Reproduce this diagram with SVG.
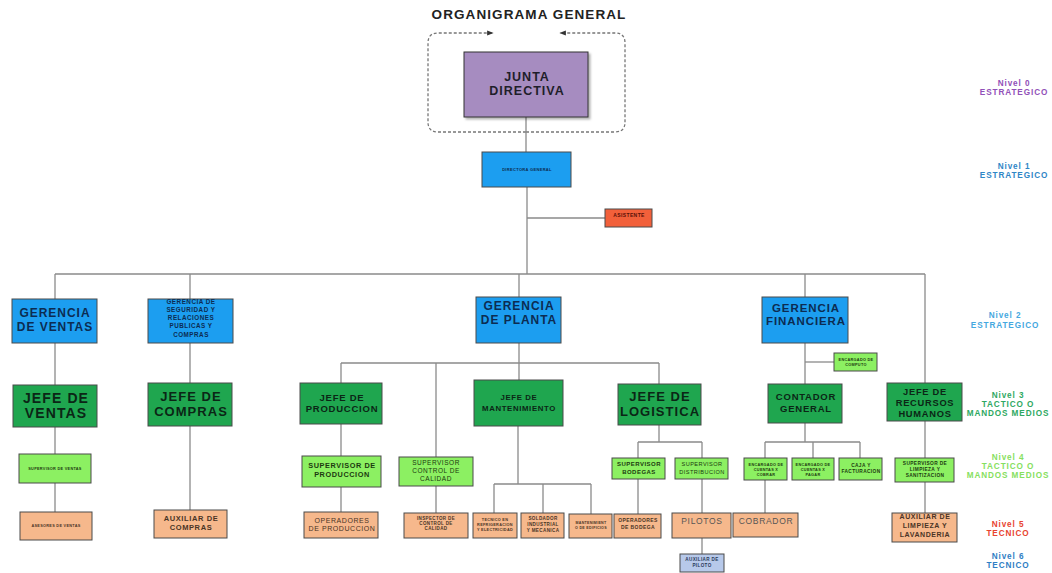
<svg xmlns="http://www.w3.org/2000/svg" width="1052" height="573" viewBox="0 0 1052 573">
<style>
text{font-family:"Liberation Sans",Arial,sans-serif;font-weight:bold;text-anchor:middle;letter-spacing:0.08em}
.c line,.c path{stroke:#8a8a8a;stroke-width:1.3;fill:none}
.box{stroke:#4a4a4a;stroke-width:1}
.purple{fill:#a68cc0}
.blue{fill:#1c9ef0}
.green{fill:#1fa64f}
.lg{fill:#8cf062}
.peach{fill:#f6b88c}
.lb{fill:#b7c9ea}
.red{fill:#f2603a}
.tb{fill:#0c2c52}
.tg{fill:#0b2616}
.tl{fill:#1c3a10}
.tp{fill:#4a3426}
.lvl{font-size:8.2px;letter-spacing:0.9px}
</style>
<defs>
<filter id="sh" x="-10%" y="-10%" width="130%" height="130%">
<feDropShadow dx="2" dy="2" stdDeviation="1.2" flood-color="#000" flood-opacity="0.3"/>
</filter>
<marker id="ar" viewBox="0 0 10 10" refX="9" refY="5" markerWidth="5" markerHeight="5" orient="auto">
<path d="M0,1 L10,5 L0,9 z" fill="#333"/>
</marker>
</defs>
<rect width="1052" height="573" fill="#fff"/>
<text x="529" y="19" font-size="13.5" fill="#222">ORGANIGRAMA GENERAL</text>

<g class="c" id="connectors">
<path d="M526,132 H438 Q428,132 428,122 V43 Q428,33 438,33 H493" stroke-dasharray="3,2" marker-end="url(#ar)" style="stroke:#777"/>
<path d="M526,132 H615 Q625,132 625,122 V43 Q625,33 615,33 H560" stroke-dasharray="3,2" marker-end="url(#ar)" style="stroke:#777"/>
<line x1="526" y1="117" x2="526" y2="152"/>
<line x1="527" y1="187" x2="527" y2="274"/>
<line x1="527" y1="218" x2="605" y2="218"/>
<line x1="55" y1="274" x2="925" y2="274"/>
<line x1="55" y1="274" x2="55" y2="299"/>
<line x1="190" y1="274" x2="190" y2="299"/>
<line x1="519" y1="274" x2="519" y2="297"/>
<line x1="805" y1="274" x2="805" y2="297"/>
<line x1="925" y1="274" x2="925" y2="383"/>
<line x1="55" y1="343" x2="55" y2="385"/>
<line x1="55" y1="427" x2="55" y2="454"/>
<line x1="55" y1="483" x2="55" y2="512"/>
<line x1="190" y1="343" x2="190" y2="383"/>
<line x1="190" y1="426" x2="190" y2="510"/>
<line x1="519" y1="343" x2="519" y2="380"/>
<line x1="341" y1="363" x2="659" y2="363"/>
<line x1="341" y1="363" x2="341" y2="383"/>
<line x1="436" y1="363" x2="436" y2="457"/>
<line x1="659" y1="363" x2="659" y2="384"/>
<line x1="341" y1="424" x2="341" y2="456"/>
<line x1="341" y1="487" x2="341" y2="512"/>
<line x1="436" y1="486" x2="436" y2="513"/>
<line x1="518" y1="426" x2="518" y2="484"/>
<line x1="494" y1="484" x2="591" y2="484"/>
<line x1="494" y1="484" x2="494" y2="513"/>
<line x1="543" y1="484" x2="543" y2="513"/>
<line x1="591" y1="484" x2="591" y2="514"/>
<line x1="659" y1="425" x2="659" y2="442"/>
<line x1="638" y1="442" x2="702" y2="442"/>
<line x1="638" y1="442" x2="638" y2="458"/>
<line x1="702" y1="442" x2="702" y2="458"/>
<line x1="638" y1="479" x2="638" y2="514"/>
<line x1="702" y1="479" x2="702" y2="513"/>
<line x1="702" y1="538" x2="702" y2="554"/>
<line x1="805" y1="343" x2="805" y2="384"/>
<line x1="805" y1="362" x2="834" y2="362"/>
<line x1="805" y1="423" x2="805" y2="442"/>
<line x1="765" y1="442" x2="860" y2="442"/>
<line x1="765" y1="442" x2="765" y2="458"/>
<line x1="813" y1="442" x2="813" y2="458"/>
<line x1="860" y1="442" x2="860" y2="458"/>
<line x1="765" y1="480" x2="765" y2="513"/>
<line x1="925" y1="421" x2="925" y2="458"/>
<line x1="925" y1="482" x2="925" y2="513"/>
</g>

<g id="junta"><rect class="box purple" x="464" y="52" width="124" height="65" filter="url(#sh)" style="stroke:#333"/>
<text x="527" y="81" font-size="12.5" fill="#1e1e2a">JUNTA</text><text x="527" y="95" font-size="12.5" fill="#1e1e2a">DIRECTIVA</text></g>

<g id="directora"><rect class="box blue" x="482" y="152" width="89" height="35"/>
<text x="527" y="171" font-size="4" class="tb">DIRECTORA GENERAL</text></g>

<g id="asistente"><rect class="box red" x="605" y="209" width="47" height="18"/>
<text x="629" y="217" font-size="5" fill="#5a1008">ASISTENTE</text></g>

<g id="ger-ventas"><rect class="box blue" x="12" y="299" width="85" height="44"/>
<text x="55" y="317" font-size="12" class="tb">GERENCIA</text><text x="55" y="331" font-size="12" class="tb">DE VENTAS</text></g>

<g id="ger-seguridad"><rect class="box blue" x="148" y="299" width="85" height="44"/>
<text x="191" y="304" font-size="6.3" class="tb">GERENCIA DE</text>
<text x="191" y="312" font-size="6.3" class="tb">SEGURIDAD Y</text>
<text x="191" y="320" font-size="6.3" class="tb">RELACIONES</text>
<text x="191" y="328" font-size="6.3" class="tb">PUBLICAS Y</text>
<text x="191" y="337" font-size="6.3" class="tb">COMPRAS</text></g>

<g id="ger-planta"><rect class="box blue" x="476" y="297" width="85" height="46"/>
<text x="519" y="310" font-size="12" class="tb">GERENCIA</text><text x="519" y="324" font-size="12" class="tb">DE PLANTA</text></g>

<g id="ger-financiera"><rect class="box blue" x="762" y="297" width="86" height="46"/>
<text x="806" y="312" font-size="11.5" class="tb">GERENCIA</text><text x="806" y="325" font-size="11.5" class="tb">FINANCIERA</text></g>

<g id="jefe-ventas"><rect class="box green" x="13" y="385" width="84" height="42"/>
<text x="56" y="403" font-size="14" class="tg">JEFE DE</text><text x="56" y="418" font-size="14" class="tg">VENTAS</text></g>

<g id="jefe-compras"><rect class="box green" x="148" y="383" width="84" height="43"/>
<text x="191" y="401" font-size="13" class="tg">JEFE DE</text><text x="191" y="416" font-size="13" class="tg">COMPRAS</text></g>

<g id="jefe-produccion"><rect class="box green" x="300" y="383" width="82" height="41"/>
<text x="342" y="401" font-size="9.5" class="tg">JEFE DE</text><text x="342" y="412" font-size="9.5" class="tg">PRODUCCION</text></g>

<g id="jefe-mantenimiento"><rect class="box green" x="474" y="380" width="89" height="46"/>
<text x="519" y="400" font-size="7.8" class="tg">JEFE DE</text><text x="519" y="411" font-size="7.8" class="tg">MANTENIMIENTO</text></g>

<g id="jefe-logistica"><rect class="box green" x="618" y="384" width="83" height="41"/>
<text x="660" y="401" font-size="13" class="tg">JEFE DE</text><text x="660" y="416" font-size="13" class="tg">LOGISTICA</text></g>

<g id="encargado-computo"><rect class="box lg" x="834" y="353" width="43" height="18"/>
<text x="856" y="361" font-size="3.8" class="tl">ENCARGADO DE</text><text x="856" y="366" font-size="3.8" class="tl">COMPUTO</text></g>

<g id="contador"><rect class="box green" x="768" y="384" width="74" height="39"/>
<text x="806" y="400" font-size="9.5" class="tg">CONTADOR</text><text x="806" y="412" font-size="9.5" class="tg">GENERAL</text></g>

<g id="jefe-rrhh"><rect class="box green" x="887" y="383" width="75" height="38"/>
<text x="925" y="395" font-size="9.3" class="tg">JEFE DE</text><text x="925" y="406" font-size="9.3" class="tg">RECURSOS</text><text x="925" y="417" font-size="9.3" class="tg">HUMANOS</text></g>

<g id="sup-ventas"><rect class="box lg" x="19" y="454" width="72" height="29"/>
<text x="55" y="470" font-size="3.8" class="tl">SUPERVISOR DE VENTAS</text></g>

<g id="sup-produccion"><rect class="box lg" x="302" y="456" width="79" height="31"/>
<text x="342" y="468" font-size="7.3" class="tl">SUPERVISOR DE</text><text x="342" y="477" font-size="7.3" class="tl">PRODUCCION</text></g>

<g id="sup-calidad"><rect class="box lg" x="399" y="457" width="74" height="29"/>
<text x="436" y="465" font-size="6.5" class="tl" style="font-weight:normal">SUPERVISOR</text><text x="436" y="473" font-size="6.5" class="tl" style="font-weight:normal">CONTROL DE</text><text x="436" y="481" font-size="6.5" class="tl" style="font-weight:normal">CALIDAD</text></g>

<g id="sup-bodegas"><rect class="box lg" x="612" y="458" width="53" height="21"/>
<text x="639" y="466" font-size="6" class="tl">SUPERVISOR</text><text x="639" y="474" font-size="6" class="tl">BODEGAS</text></g>

<g id="sup-distribucion"><rect class="box lg" x="675" y="458" width="53" height="21"/>
<text x="702" y="466" font-size="5.6" class="tl" style="font-weight:normal">SUPERVISOR</text><text x="702" y="474" font-size="5.6" class="tl" style="font-weight:normal">DISTRIBUCION</text></g>

<g id="enc-cobrar"><rect class="box lg" x="744" y="458" width="43" height="22"/>
<text x="766" y="466" font-size="3.8" class="tl">ENCARGADO DE</text><text x="766" y="471" font-size="3.8" class="tl">CUENTAS X</text><text x="766" y="476" font-size="3.8" class="tl">COBRAR</text></g>

<g id="enc-pagar"><rect class="box lg" x="792" y="458" width="42" height="22"/>
<text x="813" y="466" font-size="3.8" class="tl">ENCARGADO DE</text><text x="813" y="471" font-size="3.8" class="tl">CUENTAS X</text><text x="813" y="476" font-size="3.8" class="tl">PAGAR</text></g>

<g id="caja"><rect class="box lg" x="839" y="458" width="43" height="22"/>
<text x="861" y="467" font-size="4.8" class="tl">CAJA Y</text><text x="861" y="473" font-size="4.8" class="tl">FACTURACION</text></g>

<g id="sup-limpieza"><rect class="box lg" x="895" y="458" width="59" height="24"/>
<text x="925" y="465" font-size="4.8" class="tl">SUPERVISOR DE</text><text x="925" y="471" font-size="4.8" class="tl">LIMPIEZA Y</text><text x="925" y="477" font-size="4.8" class="tl">SANITIZACION</text></g>

<g id="asesores"><rect class="box peach" x="20" y="512" width="72" height="28"/>
<text x="56" y="527" font-size="3.8" class="tp">ASESORES DE VENTAS</text></g>

<g id="aux-compras"><rect class="box peach" x="154" y="510" width="73" height="28"/>
<text x="191" y="521" font-size="7.5" class="tp">AUXILIAR DE</text><text x="191" y="530" font-size="7.5" class="tp">COMPRAS</text></g>

<g id="operadores-prod"><rect class="box peach" x="304" y="512" width="74" height="26"/>
<text x="342" y="523" font-size="7" class="tp" style="font-weight:normal">OPERADORES</text><text x="342" y="531" font-size="7" class="tp" style="font-weight:normal">DE PRODUCCION</text></g>

<g id="inspector"><rect class="box peach" x="404" y="513" width="64" height="25"/>
<text x="436" y="520" font-size="4.5" class="tp">INSPECTOR DE</text><text x="436" y="525" font-size="4.5" class="tp">CONTROL DE</text><text x="436" y="530" font-size="4.5" class="tp">CALIDAD</text></g>

<g id="tecnico"><rect class="box peach" x="473" y="513" width="44" height="25"/>
<text x="495" y="521" font-size="3.8" class="tp">TECNICO EN</text><text x="495" y="526" font-size="3.8" class="tp">REFRIGERACION</text><text x="495" y="531" font-size="3.8" class="tp">Y ELECTRICIDAD</text></g>

<g id="soldador"><rect class="box peach" x="521" y="513" width="43" height="25"/>
<text x="543" y="520" font-size="4.6" class="tp">SOLDADOR</text><text x="543" y="526" font-size="4.6" class="tp">INDUSTRIAL</text><text x="543" y="532" font-size="4.6" class="tp">Y MECANICA</text></g>

<g id="mant-edificios"><rect class="box peach" x="569" y="514" width="43" height="24"/>
<text x="591" y="524" font-size="3.6" class="tp">MANTENIMIENT</text><text x="591" y="529" font-size="3.6" class="tp">O DE EDIFICIOS</text></g>

<g id="operadores-bodega"><rect class="box peach" x="614" y="514" width="47" height="24"/>
<text x="638" y="522" font-size="5" class="tp">OPERADORES</text><text x="638" y="529" font-size="5" class="tp">DE BODEGA</text></g>

<g id="pilotos"><rect class="box peach" x="672" y="513" width="59" height="25"/>
<text x="702" y="524" font-size="8.5" fill="#555" style="font-weight:normal">PILOTOS</text></g>

<g id="cobrador"><rect class="box peach" x="733" y="513" width="65" height="24"/>
<text x="766" y="524" font-size="8.5" fill="#555" style="font-weight:normal">COBRADOR</text></g>

<g id="aux-limpieza"><rect class="box peach" x="892" y="513" width="65" height="29"/>
<text x="925" y="519" font-size="7" class="tp">AUXILIAR DE</text><text x="925" y="528" font-size="7" class="tp">LIMPIEZA Y</text><text x="925" y="537" font-size="7" class="tp">LAVANDERIA</text></g>

<g id="aux-piloto"><rect class="box lb" x="680" y="554" width="44" height="18"/>
<text x="702" y="561" font-size="4.6" fill="#2a3a5a">AUXILIAR DE</text><text x="702" y="567" font-size="4.6" fill="#2a3a5a">PILOTO</text></g>

<g id="niveles">
<text class="lvl" x="1014" y="86" fill="#9150b8">Nivel 0</text><text class="lvl" x="1014" y="95" fill="#9150b8">ESTRATEGICO</text>
<text class="lvl" x="1014" y="169" fill="#2f86c6">Nivel 1</text><text class="lvl" x="1014" y="178" fill="#2f86c6">ESTRATEGICO</text>
<text class="lvl" x="1005" y="318" fill="#45a8e0">Nivel 2</text><text class="lvl" x="1005" y="328" fill="#45a8e0">ESTRATEGICO</text>
<text class="lvl" x="1008" y="398" fill="#2ea862">Nivel 3</text><text class="lvl" x="1008" y="407" fill="#2ea862">TACTICO O</text><text class="lvl" x="1008" y="416" fill="#2ea862">MANDOS MEDIOS</text>
<text class="lvl" x="1008" y="460" fill="#86e060">Nivel 4</text><text class="lvl" x="1008" y="469" fill="#86e060">TACTICO O</text><text class="lvl" x="1008" y="478" fill="#86e060">MANDOS MEDIOS</text>
<text class="lvl" x="1008" y="527" fill="#e8432f">Nivel 5</text><text class="lvl" x="1008" y="536" fill="#e8432f">TECNICO</text>
<text class="lvl" x="1008" y="559" fill="#2f7ec4">Nivel 6</text><text class="lvl" x="1008" y="568" fill="#2f7ec4">TECNICO</text>
</g>
</svg>
